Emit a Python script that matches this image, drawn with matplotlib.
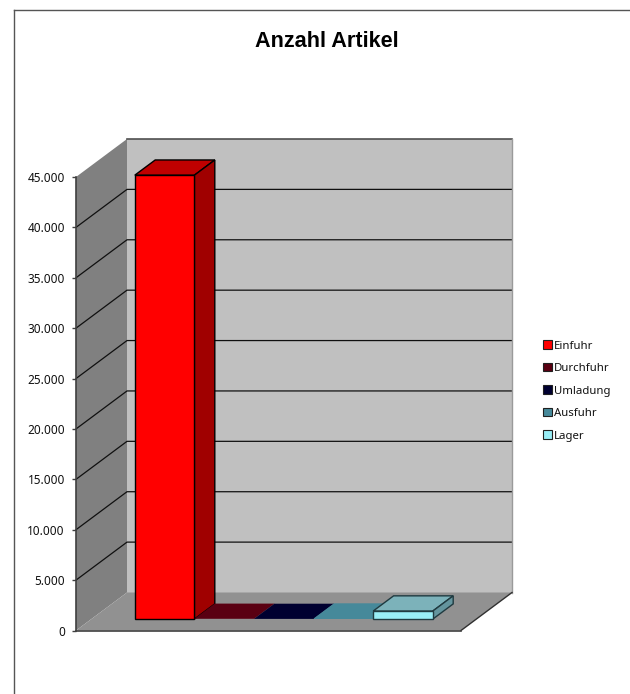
import matplotlib
matplotlib.use('Agg')
import matplotlib.pyplot as plt
from matplotlib.lines import Line2D
from matplotlib.patches import Patch, Polygon
from matplotlib.ticker import FuncFormatter

plt.rcParams['font.family'] = ['Noto Sans', 'DejaVu Sans']

TITLE = 'Anzahl Artikel'
series = ['Einfuhr', 'Durchfuhr', 'Umladung', 'Ausfuhr', 'Lager']
values = [44050, 30, 20, 60, 800]
y_ticks = [0, 5000, 10000, 15000, 20000, 25000, 30000, 35000, 40000, 45000]

front_colors = ['#ff0000', '#5a0012', '#000030', '#46899a', '#99eef6']
top_colors = ['#c00000', '#5a0012', '#000030', '#46899a', '#7cb2ba']
side_colors = ['#a00000', '#4a000e', '#000028', '#3a7482', '#64959e']

W, H = 630, 694
Y_MAX = 45000
DX = 51 / 385
DY = 38 / 453.5 * Y_MAX
BAR_W = 59.6 / 385
GAP = (1 - len(series) * BAR_W) / 2
BAR_D0, BAR_D1 = 0.3, 0.7


def project(x, y, d):
    return x + d * DX, y + d * DY


def face(ax, pts, color, edge='none', lw=0.0, z=1):
    ax.add_patch(Polygon([project(*p) for p in pts], closed=True, facecolor=color,
                         edgecolor=edge, linewidth=lw, zorder=z, clip_on=False, joinstyle='miter'))


def draw_bar(ax, i, value):
    x0 = GAP + i * BAR_W
    x1 = x0 + BAR_W
    z = 5 + i
    edge = '#000000' if i in (0, 4) else 'none'
    if i == 4:
        edge = '#203a40'
    face(ax, [(x0, value, BAR_D0), (x1, value, BAR_D0), (x1, value, BAR_D1), (x0, value, BAR_D1)],
         top_colors[i], edge, 1.0, z)
    face(ax, [(x1, 0, BAR_D0), (x1, value, BAR_D0), (x1, value, BAR_D1), (x1, 0, BAR_D1)],
         side_colors[i], edge, 1.0, z)
    face(ax, [(x0, 0, BAR_D0), (x1, 0, BAR_D0), (x1, value, BAR_D0), (x0, value, BAR_D0)],
         front_colors[i], edge, 1.0, z)


fig = plt.figure(figsize=(W / 100, H / 100), dpi=100, facecolor='white')
ax = fig.add_axes([76 / W, 1 - 630.5 / H, 385 / W, 453.5 / H])
ax.set_xlim(0, 1)
ax.set_ylim(0, Y_MAX)
ax.patch.set_alpha(0)

# walls and floor
face(ax, [(0, 0, 0), (0, Y_MAX, 0), (0, Y_MAX, 1), (0, 0, 1)], '#808080')
face(ax, [(0, 0, 1), (1, 0, 1), (1, Y_MAX, 1), (0, Y_MAX, 1)], '#c0c0c0')
face(ax, [(0, 0, 0), (1, 0, 0), (1, 0, 1), (0, 0, 1)], '#919191')

# gridlines run along the side wall and the back wall
for v in y_ticks[1:-1]:
    pts = [project(0, v, 0), project(0, v, 1), project(1, v, 1)]
    ax.plot([p[0] for p in pts], [p[1] for p in pts], color='#101010', lw=0.9, zorder=2, clip_on=False)

tl = [project(0, Y_MAX, 1), project(1, Y_MAX, 1)]
ax.plot([p[0] for p in tl], [p[1] for p in tl], color='#505050', lw=1.2, zorder=2, clip_on=False)
rl = [project(1, Y_MAX, 1), project(1, 0, 1)]
ax.plot([p[0] for p in rl], [p[1] for p in rl], color='#9a9a9a', lw=1.0, zorder=2, clip_on=False)
fl = [project(1, 0, 0), project(1, 0, 1)]
ax.plot([p[0] for p in fl], [p[1] for p in fl], color='#303030', lw=1.0, zorder=2, clip_on=False)

for i, v in enumerate(values):
    draw_bar(ax, i, v)

for name in ['top', 'right']:
    ax.spines[name].set_visible(False)
for name in ['left', 'bottom']:
    ax.spines[name].set_color('#404040')
    ax.spines[name].set_linewidth(1.2)
    ax.spines[name].set_zorder(3)

ax.set_xticks([])
ax.set_yticks(y_ticks)
ax.yaxis.set_major_formatter(FuncFormatter(lambda v, pos: f'{int(v):,}'.replace(',', '.')))
ax.tick_params(axis='y', length=3, width=1, color='#404040', pad=5, labelsize=8.5, labelcolor='#111111')

fig.text(327 / W, 1 - 41.5 / H, TITLE, ha='center', va='center', fontsize=15.6, fontweight='bold',
         family='Liberation Sans', color='black')

handles = [Patch(facecolor=c, edgecolor='#202020', linewidth=0.8) for c in front_colors]
fig.legend(handles, series, loc='center left', bbox_to_anchor=(541 / W, 1 - 391 / H), frameon=False,
           fontsize=8.2, handlelength=0.75, handleheight=0.75, handletextpad=0.15, labelspacing=1.0,
           borderpad=0.2, borderaxespad=0, labelcolor='#111111')

# outer chart frame, only top and left are visible
fig.add_artist(Line2D([13.5 / W, 1], [1 - 9.5 / H, 1 - 9.5 / H], color='#555555', lw=1.0))
fig.add_artist(Line2D([13.5 / W, 13.5 / W], [1 - 9.5 / H, 0.002], color='#555555', lw=1.0))

fig.savefig('out.png', dpi=100, facecolor='white')
